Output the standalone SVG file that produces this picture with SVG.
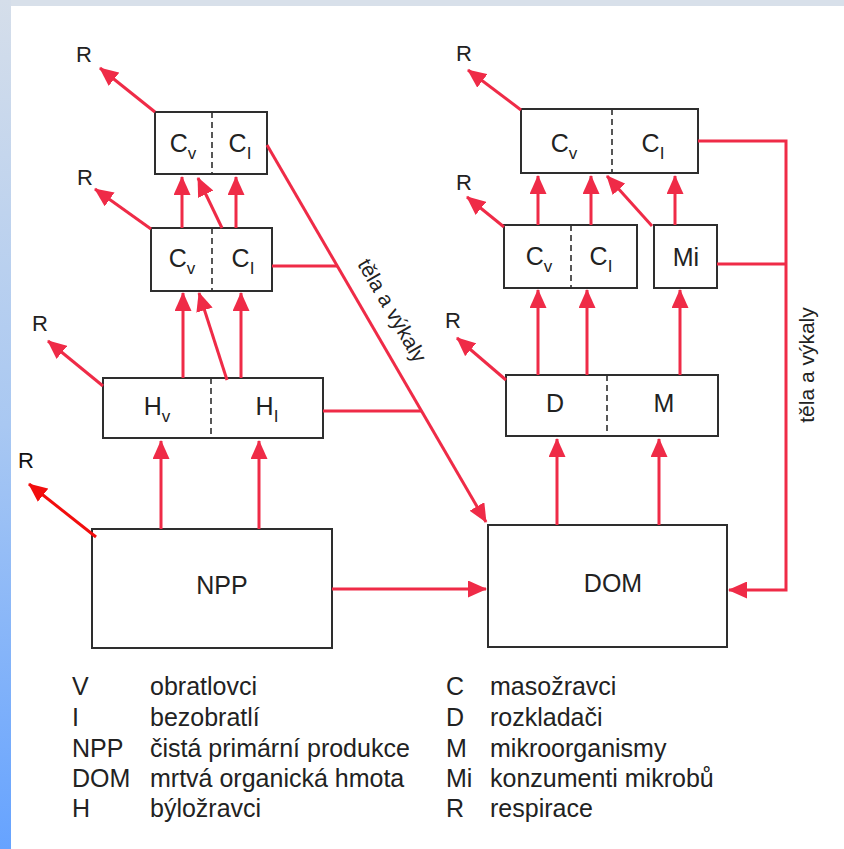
<svg xmlns="http://www.w3.org/2000/svg" width="844" height="849" viewBox="0 0 844 849">
<defs>
<linearGradient id="side" x1="0" y1="0" x2="0" y2="1">
<stop offset="0" stop-color="#d5deea"/>
<stop offset="0.5" stop-color="#a9c8f2"/>
<stop offset="1" stop-color="#66a3ff"/>
</linearGradient>
<marker id="ah" markerUnits="userSpaceOnUse" markerWidth="19" markerHeight="17" viewBox="0 0 19 17" refX="18" refY="8.5" orient="auto">
<path d="M0,0 L19,8.5 L0,17 z" fill="#ef2b47"/>
</marker>
<marker id="ah2" markerUnits="userSpaceOnUse" markerWidth="19" markerHeight="17" viewBox="0 0 19 17" refX="18" refY="8.5" orient="auto">
<path d="M0,0 L19,8.5 L0,17 z" fill="#f20d0d"/>
</marker>
<style>
.box{fill:none;stroke:#2e2e2e;stroke-width:2}
.div{stroke:#2e2e2e;stroke-width:1.6;stroke-dasharray:6 4}
.t{font-family:"Liberation Sans",Arial,sans-serif;font-size:25px;fill:#222}
.s{font-size:17px}
.r{font-family:"Liberation Sans",Arial,sans-serif;font-size:22px;fill:#222}
.lg{font-family:"Liberation Sans",Arial,sans-serif;font-size:25px;fill:#222}
.a{stroke:#ef2b47;stroke-width:3;fill:none;marker-end:url(#ah)}
.l{stroke:#ef2b47;stroke-width:3;fill:none}
.lab{font-family:"Liberation Sans",Arial,sans-serif;font-size:21px;fill:#222}
</style>
</defs>
<rect x="0" y="0" width="844" height="849" fill="#ffffff"/>
<rect x="0" y="0" width="844" height="6" fill="#d8e0ea"/>
<rect x="0" y="0" width="11" height="849" fill="url(#side)"/>

<g id="node-cl1">
<rect class="box" x="155" y="112" width="112" height="62"/>
<line class="div" x1="212" y1="112" x2="212" y2="174"/>
<text class="t" x="183" y="152" text-anchor="middle">C<tspan class="s" dy="7">v</tspan></text>
<text class="t" x="240" y="152" text-anchor="middle">C<tspan class="s" dy="7">I</tspan></text>
</g>
<g id="node-cl2">
<rect class="box" x="151" y="228" width="121" height="63"/>
<line class="div" x1="212" y1="228" x2="212" y2="291"/>
<text class="t" x="182" y="267" text-anchor="middle">C<tspan class="s" dy="7">v</tspan></text>
<text class="t" x="243" y="267" text-anchor="middle">C<tspan class="s" dy="7">I</tspan></text>
</g>
<g id="node-h">
<rect class="box" x="103" y="378" width="220" height="60"/>
<line class="div" x1="211" y1="378" x2="211" y2="438"/>
<text class="t" x="157" y="415" text-anchor="middle">H<tspan class="s" dy="7">v</tspan></text>
<text class="t" x="267" y="415" text-anchor="middle">H<tspan class="s" dy="7">I</tspan></text>
</g>
<g id="node-npp">
<rect class="box" x="92" y="529" width="240" height="119"/>
<text class="t" x="222" y="594" text-anchor="middle">NPP</text>
</g>
<g id="node-dom">
<rect class="box" x="488" y="525" width="239" height="122"/>
<text class="t" x="613" y="592" text-anchor="middle">DOM</text>
</g>
<g id="node-dm">
<rect class="box" x="506" y="375" width="212" height="61"/>
<line class="div" x1="607" y1="375" x2="607" y2="436"/>
<text class="t" x="555" y="412" text-anchor="middle">D</text>
<text class="t" x="664" y="412" text-anchor="middle">M</text>
</g>
<g id="node-cr1">
<rect class="box" x="521" y="109" width="177" height="64"/>
<line class="div" x1="612" y1="109" x2="612" y2="173"/>
<text class="t" x="564" y="152" text-anchor="middle">C<tspan class="s" dy="7">v</tspan></text>
<text class="t" x="653" y="152" text-anchor="middle">C<tspan class="s" dy="7">I</tspan></text>
</g>
<g id="node-cr2">
<rect class="box" x="504" y="225" width="133" height="63"/>
<line class="div" x1="571" y1="225" x2="571" y2="288"/>
<text class="t" x="539" y="265" text-anchor="middle">C<tspan class="s" dy="7">v</tspan></text>
<text class="t" x="601" y="265" text-anchor="middle">C<tspan class="s" dy="7">I</tspan></text>
</g>
<g id="node-mi">
<rect class="box" x="654" y="225" width="63" height="63"/>
<text class="t" x="686" y="266" text-anchor="middle">Mi</text>
</g>

<g id="resp-labels">
<text class="r" x="76" y="62">R</text>
<text class="r" x="77" y="185">R</text>
<text class="r" x="32" y="331">R</text>
<text class="r" x="18" y="468" style="fill:#111">R</text>
<text class="r" x="456" y="61">R</text>
<text class="r" x="456" y="190">R</text>
<text class="r" x="445" y="328">R</text>
</g>

<g id="connectors">
<line class="a" x1="155" y1="112" x2="100" y2="68"/>
<line class="a" x1="151" y1="229" x2="95" y2="189"/>
<line class="a" x1="103" y1="386" x2="48" y2="341"/>
<line x1="96" y1="537" x2="29" y2="484" stroke="#f20d0d" stroke-width="3" marker-end="url(#ah2)"/>
<line class="a" x1="521" y1="110" x2="468" y2="70"/>
<line class="a" x1="504" y1="227" x2="467" y2="197"/>
<line class="a" x1="506" y1="380" x2="457" y2="338"/>

<line class="a" x1="182" y1="228" x2="182" y2="177"/>
<line class="a" x1="222" y1="228" x2="198" y2="178"/>
<line class="a" x1="236" y1="228" x2="236" y2="177"/>

<line class="a" x1="183" y1="378" x2="183" y2="293"/>
<line class="a" x1="227" y1="380" x2="199" y2="293"/>
<line class="a" x1="241" y1="378" x2="241" y2="293"/>

<line class="a" x1="161" y1="529" x2="161" y2="441"/>
<line class="a" x1="259" y1="529" x2="259" y2="441"/>

<line class="a" x1="538" y1="225" x2="538" y2="176"/>
<line class="a" x1="591" y1="225" x2="591" y2="176"/>
<line class="a" x1="652" y1="226" x2="607" y2="176"/>
<line class="a" x1="675" y1="225" x2="675" y2="176"/>

<line class="a" x1="538" y1="375" x2="538" y2="290"/>
<line class="a" x1="587" y1="375" x2="587" y2="290"/>
<line class="a" x1="680" y1="375" x2="680" y2="290"/>

<line class="a" x1="557" y1="525" x2="557" y2="439"/>
<line class="a" x1="659" y1="525" x2="659" y2="439"/>

<line class="a" x1="332" y1="589" x2="486" y2="589"/>

<line class="a" x1="267" y1="145" x2="486" y2="522"/>
<line class="l" x1="272" y1="266" x2="338" y2="266"/>
<line class="l" x1="323" y1="411" x2="421" y2="411"/>

<polyline class="a" points="698,141 786,141 786,590 729,590"/>
<line class="l" x1="717" y1="264" x2="786" y2="264"/>

<text class="lab" transform="translate(386,314) rotate(60)" text-anchor="middle">těla a výkaly</text>
<text class="lab" transform="translate(814,365) rotate(-90)" text-anchor="middle">těla a výkaly</text>
</g>

<g id="legend">
<text class="lg" x="72" y="695">V</text>
<text class="lg" x="72" y="726">I</text>
<text class="lg" x="72" y="757">NPP</text>
<text class="lg" x="72" y="787">DOM</text>
<text class="lg" x="72" y="817">H</text>
<text class="lg" x="150" y="695">obratlovci</text>
<text class="lg" x="150" y="726">bezobratlí</text>
<text class="lg" x="150" y="757">čistá primární produkce</text>
<text class="lg" x="150" y="787">mrtvá organická hmota</text>
<text class="lg" x="150" y="817">býložravci</text>
<text class="lg" x="446" y="695">C</text>
<text class="lg" x="446" y="726">D</text>
<text class="lg" x="446" y="757">M</text>
<text class="lg" x="446" y="787">Mi</text>
<text class="lg" x="446" y="817">R</text>
<text class="lg" x="490" y="695">masožravci</text>
<text class="lg" x="490" y="726">rozkladači</text>
<text class="lg" x="490" y="757">mikroorganismy</text>
<text class="lg" x="490" y="787">konzumenti mikrobů</text>
<text class="lg" x="490" y="817">respirace</text>
</g>
</svg>
